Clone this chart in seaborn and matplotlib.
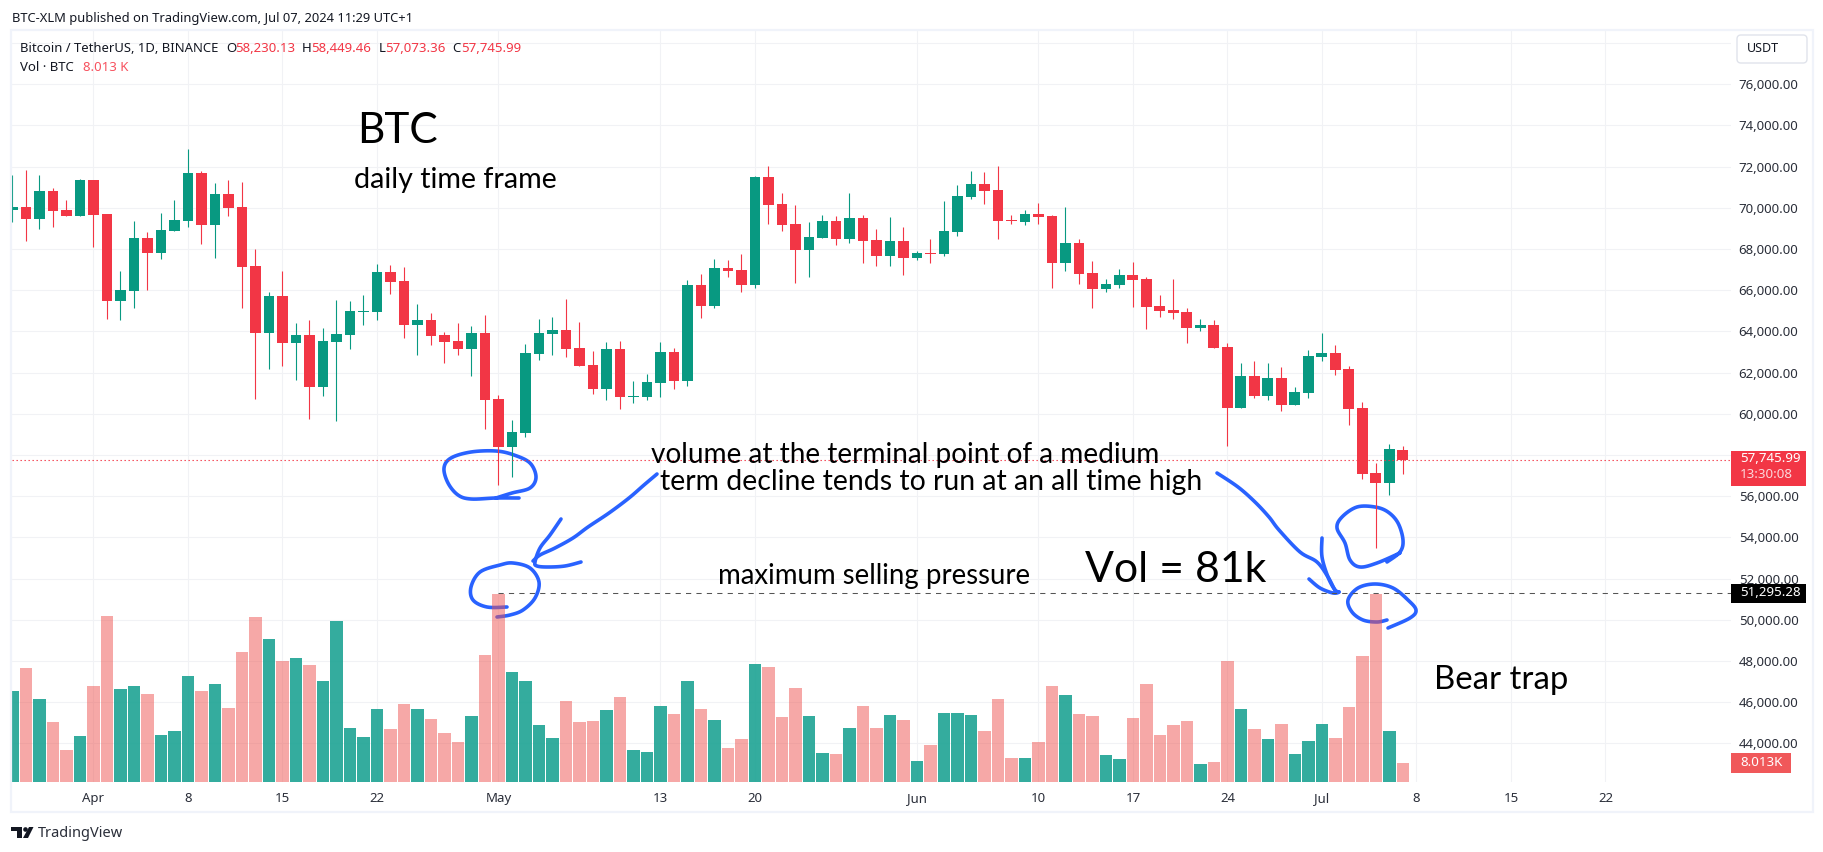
"""BTCUSDT daily chart with hand drawn notes about volume at the lows."""

import matplotlib
matplotlib.use("Agg")
import matplotlib.pyplot as plt
import numpy as np
import pandas as pd
import seaborn as sns
from matplotlib.patches import Circle, FancyBboxPatch, Polygon, Rectangle
from matplotlib.transforms import Affine2D

W, H = 1824, 852

UP = "#089981"
DOWN = "#F23645"
INK = "#131722"
BLUE = "#2962FF"

start_date = "2024-03-26"

opens = [69880, 70030, 69440, 70800, 69880, 69590, 71340, 69690, 65460, 65950, 68520, 67790, 68860,
         69350, 71680, 69150, 70660, 70030, 67160, 63910, 65710, 63430, 63810, 61290, 63470, 63810,
         64930, 64930, 66870, 66430, 64300, 64540, 63810, 63520, 63130, 63910, 60710, 58380, 59060,
         62890, 63860, 64060, 63180, 62360, 61190, 63130, 60800, 60800, 61480, 62990, 61580, 66240,
         65220, 67070, 66970, 66240, 71480, 70170, 69200, 67940, 68520, 69350, 68470, 69490, 68420,
         67650, 68380, 67550, 67790, 67750, 68810, 70510, 71140, 70850, 69400, 69300, 69690, 69590,
         67310, 68280, 66820, 66050, 66240, 66730, 66530, 65220, 65030, 64930, 64150, 64300, 63230,
         60270, 61820, 60850, 61730, 60420, 61000, 62750, 62940, 62160, 60270, 57120, 56630, 58230.13]
highs = [71580, 71820, 71580, 70950, 70370, 71390, 71340, 69690, 66920, 69350, 68810, 69740, 70370,
         72840, 71770, 71190, 71340, 71240, 67990, 65900, 66920, 64400, 64540, 64150, 65510, 65460,
         65760, 67260, 67210, 67110, 65320, 64880, 63960, 64400, 64250, 64780, 60900, 59690, 63380,
         64590, 64690, 65560, 64440, 63040, 63470, 63520, 61580, 61920, 63470, 63180, 66480, 66770,
         67500, 67450, 67750, 71530, 72020, 70710, 70120, 69300, 69640, 69590, 70710, 69640, 68960,
         69540, 69060, 67920, 68470, 70320, 71090, 71770, 71730, 72020, 69640, 69880, 70220, 69640,
         70030, 68470, 67410, 66530, 67020, 67360, 66630, 65760, 66530, 65120, 64590, 64540, 63430,
         62450, 62550, 62450, 62260, 61290, 63090, 63910, 63330, 62310, 60560, 57600, 58520, 58449.46]
lows = [69300, 68380, 68960, 69060, 69590, 69590, 68090, 64590, 64540, 65120, 66000, 67500, 68860,
        69060, 68230, 67550, 69590, 65120, 60710, 62160, 62310, 61630, 59740, 60850, 59640, 63130,
        64300, 64540, 65800, 63670, 62840, 63330, 62450, 62840, 61820, 59250, 56550, 56940, 58860,
        62600, 62840, 62750, 62310, 60950, 60660, 60220, 60510, 60660, 60800, 61190, 61340, 64640,
        65120, 66630, 65900, 66100, 69200, 68860, 66340, 66630, 68520, 68180, 68280, 67310, 67160,
        67160, 66730, 67450, 67310, 67650, 68620, 70420, 70170, 68470, 69200, 69150, 69200, 66100,
        66920, 66290, 65120, 65900, 66100, 65170, 64100, 64690, 64590, 63430, 64010, 63180, 58430,
        60270, 60760, 60660, 60120, 60420, 60760, 62550, 61870, 59450, 56820, 53490, 56050, 57073.36]
closes = [70030, 69440, 70800, 69830, 69590, 71340, 69640, 65460, 66000, 68520, 67790, 68910, 69400,
          71680, 69150, 70660, 69980, 67110, 63910, 65710, 63430, 63810, 61290, 63520, 63860, 64980,
          64980, 66870, 66390, 64300, 64540, 63770, 63470, 63130, 63910, 60660, 58380, 59110, 62940,
          63910, 64060, 63130, 62310, 61190, 63130, 60800, 60850, 61530, 62990, 61580, 66240, 65220,
          67070, 66920, 66240, 71480, 70120, 69150, 67940, 68570, 69350, 68470, 69490, 68380, 67650,
          68380, 67550, 67790, 67750, 68860, 70560, 71140, 70800, 69350, 69350, 69690, 69540, 67310,
          68280, 66770, 66050, 66290, 66730, 66480, 65170, 64980, 64880, 64150, 64300, 63180, 60270,
          61820, 60850, 61730, 60420, 61050, 62790, 62940, 62110, 60220, 57070, 56630, 58280, 57745.99]
volumes_k = [39.2, 49.2, 35.8, 25.8, 13.7, 19.8, 41.4, 71.7, 40.1, 41.4, 37.9, 20.2, 21.9,
             45.7, 39.2, 42.3, 31.9, 56.1, 71.2, 61.7, 52.2, 53.5, 50.5, 43.5, 69.5, 23.2,
             19.3, 31.4, 22.8, 33.6, 31.4, 27.1, 21.1, 17.2, 28.4, 54.8, 81.2, 47.4, 43.5,
             24.5, 18.9, 34.9, 25.8, 26.2, 31.0, 36.6, 13.7, 12.8, 32.7, 29.3, 43.5, 31.4,
             26.7, 14.6, 18.5, 50.9, 49.6, 28.0, 40.5, 28.4, 12.4, 12.0, 23.2, 32.7, 23.2,
             28.8, 26.7, 8.9, 15.9, 29.7, 29.7, 28.8, 21.9, 35.8, 10.2, 10.2, 17.2, 41.4,
             37.5, 29.3, 28.4, 11.5, 9.8, 27.5, 42.3, 20.2, 24.5, 26.2, 7.6, 8.5, 52.2,
             31.4, 22.8, 18.5, 24.9, 12.0, 17.6, 24.9, 18.9, 32.3, 54.4, 81.2, 21.9, 8.013]

price_ticks = list(range(44000, 78001, 2000))
tick_dates = ["2024-04-01", "2024-04-08", "2024-04-15", "2024-04-22", "2024-05-01", "2024-05-13",
              "2024-05-20", "2024-06-01", "2024-06-10", "2024-06-17", "2024-06-24", "2024-07-01",
              "2024-07-08", "2024-07-15", "2024-07-22"]
tick_labels = ["Apr", "8", "15", "22", "May", "13", "20", "Jun", "10", "17", "24", "Jul", "8", "15", "22"]
last_price = 57745.99
peak_level = 51295.28
peak_date = "2024-05-01"

# hand drawn pen strokes, in image pixels
strokes = [
    [(519, 498), (496, 498), (471, 499), (458, 495), (448, 483), (444, 468), (451, 458), (471, 452),
     (496, 451), (514, 455), (530, 463), (536, 477), (530, 488), (512, 493), (496, 498)],
    [(657, 474), (644, 485), (629, 498), (609, 513), (588, 527), (573, 538), (555, 548), (540, 555), (533, 561)],
    [(561, 519), (550, 535), (540, 548), (535, 562), (537, 566), (548, 567), (565, 566), (581, 562)],
    [(507, 607), (487, 607), (473, 600), (471, 587), (480, 572), (500, 565), (513, 563), (530, 568),
     (539, 582), (535, 598), (523, 610), (510, 615), (497, 617)],
    [(1217, 473), (1238, 487), (1255, 502), (1269, 517), (1279, 530), (1300, 552), (1317, 562),
     (1328, 577), (1335, 590), (1339, 592)],
    [(1322, 538), (1322, 557), (1328, 577), (1335, 590), (1339, 592), (1333, 593), (1320, 588), (1309, 579)],
    [(1387, 562), (1400, 552), (1403, 540), (1398, 523), (1388, 512), (1375, 507), (1357, 507), (1342, 517),
     (1337, 528), (1345, 543), (1350, 560), (1360, 567), (1377, 563), (1400, 553)],
    [(1387, 620), (1377, 622), (1363, 620), (1352, 612), (1348, 600), (1358, 588), (1375, 584), (1393, 588),
     (1408, 600), (1416, 610), (1410, 618), (1388, 628)],
]


def smooth(points, steps=8):
    """Catmull-Rom through the pen points, so strokes do not look polygonal."""
    p = np.array(points, dtype=float)
    p = np.vstack([p[0], p, p[-1]])
    out = []
    for i in range(1, len(p) - 2):
        for t in np.linspace(0, 1, steps, endpoint=False):
            out.append(0.5 * (2 * p[i] + (p[i + 1] - p[i - 1]) * t
                              + (2 * p[i - 1] - 5 * p[i] + 4 * p[i + 1] - p[i + 2]) * t ** 2
                              + (3 * p[i] - p[i - 1] - 3 * p[i + 1] + p[i + 2]) * t ** 3))
    out.append(p[-1])
    return np.array(out)


sns.set_theme(style="white")
plt.rcParams["font.family"] = ["Noto Sans", "DejaVu Sans"]
NOTE_FONT = "Lato"

df = pd.DataFrame({
    "date": pd.date_range(start_date, periods=len(opens)),
    "open": opens, "high": highs, "low": lows, "close": closes, "volume": volumes_k,
})
df["day"] = np.arange(len(df))
df["up"] = df["close"] >= df["open"]
df["color"] = np.where(df["up"], UP, DOWN)


def day_of(date):
    return (pd.Timestamp(date) - pd.Timestamp(start_date)).days


fig = plt.figure(figsize=(W / 100, H / 100), dpi=100, facecolor="white")
PX = Affine2D().scale(1, -1).translate(0, H)  # image pixels, y down

ax = fig.add_axes([12 / W, 1 - 782 / H, (1731 - 12) / W, (782 - 31) / H])
ax_vol = ax.twinx()

# volume first, on the transparent twin so it sits over the pen strokes
for is_up, color, alpha in [(True, "#22A596", 0.92), (False, "#EF5350", 0.5)]:
    sub = df[df["up"] == is_up]
    sns.barplot(data=sub, x="day", y="volume", native_scale=True, color=color, saturation=1,
                alpha=alpha, width=0.92, linewidth=0, errorbar=None, ax=ax_vol)
ax_vol.set_ylim(0, 324.9)
ax_vol.set_yticks([])
ax_vol.set_ylabel("")
ax_vol.set_xlabel("")
ax_vol.patch.set_visible(False)

ax.vlines(df["day"], df["low"], df["high"], colors=df["color"], linewidth=0.8, zorder=3)
ax.bar(df["day"], (df["close"] - df["open"]).abs().clip(lower=40), bottom=df[["open", "close"]].min(axis=1),
       width=0.81, color=df["color"], linewidth=0, zorder=4)

ax.axhline(last_price, color=DOWN, linewidth=0.8, linestyle=(0, (1.2, 2.4)), zorder=5)
ax.hlines(peak_level, day_of(peak_date), 200, color="#555555", linewidth=0.75, linestyle=(0, (5, 5)), zorder=5)

ax.set_xlim(-0.037, 127.3)
ax.set_ylim(42121, 78588)
ax.yaxis.tick_right()
ax.set_yticks(price_ticks)
ax.set_yticklabels([f"{v:,.2f}" if v < 78000 else "" for v in price_ticks])
ax.set_xticks([day_of(d) for d in tick_dates])
ax.set_xticklabels(tick_labels)
ax.tick_params(axis="y", length=0, pad=5.5, labelsize=9.5, labelcolor="#2a2e39")
ax.tick_params(axis="x", length=0, pad=7, labelsize=9.5, labelcolor="#2a2e39")
for tick_text in ax.get_yticklabels():
    tick_text.set_verticalalignment("center_baseline")
ax.grid(True, color="#F1F2F5", linewidth=0.8)
ax.set_axisbelow(True)
sns.despine(ax=ax, left=True, right=True, top=True, bottom=True)
sns.despine(ax=ax_vol, left=True, right=True, top=True, bottom=True)

for stroke in strokes:
    xy = smooth(stroke)
    ax.plot(xy[:, 0], xy[:, 1], color=BLUE, linewidth=2.6, solid_capstyle="round",
            solid_joinstyle="round", transform=PX, clip_on=False, zorder=2)

# frame and price boxes
fig.add_artist(Rectangle((11, 30), 1802, 782, transform=PX, fill=False, edgecolor="#F0F3FA", linewidth=1.6))
fig.add_artist(Rectangle((1731, 451), 75, 35, transform=PX, facecolor=DOWN, edgecolor="none"))
fig.add_artist(Rectangle((1731, 584), 75, 19, transform=PX, facecolor="black", edgecolor="none"))
fig.add_artist(Rectangle((1731, 753), 60, 20, transform=PX, facecolor="#F0585A", edgecolor="none"))
fig.add_artist(FancyBboxPatch((1740, 38), 64, 22, boxstyle="round,pad=3,rounding_size=4", transform=PX,
                              facecolor="white", edgecolor="#E0E3EB", linewidth=1))

# TradingView mark
fig.add_artist(Polygon([(11, 827), (22, 827), (22, 838), (17, 838), (17, 831), (11, 831)], transform=PX,
                       facecolor=INK, edgecolor="none"))
fig.add_artist(Circle((25.5, 829.5), 2.3, transform=PX, facecolor=INK, edgecolor="none"))
fig.add_artist(Polygon([(29, 827), (33.5, 827), (28, 838), (23, 838)], transform=PX, facecolor=INK, edgecolor="none"))


def label(x, y, s, size=9.5, color=INK, va="baseline", ha="left", **kw):
    fig.text(x, y, s, transform=PX, fontsize=size, color=color, va=va, ha=ha, **kw)


label(11.5, 22, "BTC-XLM published on TradingView.com, Jul 07, 2024 11:29 UTC+1", size=9.3)
label(20, 52, "Bitcoin / TetherUS, 1D, BINANCE", size=9.4)
for x, letter, value in [(226, "O", "58,230.13"), (302, "H", "58,449.46"), (379, "L", "57,073.36"), (452, "C", "57,745.99")]:
    label(x, 52, letter, size=9.5)
    label(x + (6 if letter == "L" else 9), 52, value, size=9.5, color=DOWN)
label(20, 71, "Vol · BTC", size=9.5)
label(83, 71, "8.013 K", size=9.5, color="#F7525F")
label(1747, 49, "USDT", size=9, va="center")
label(38, 837, "TradingView", size=10.5, color="#2a2e39")
label(1740, 459, "57,745.99", size=9.6, color="white", va="center", fontweight="medium")
label(1740, 475, "13:30:08", size=9.6, color="#FBD7DB", va="center")
label(1740, 592, "51,295.28", size=9.6, color="white", va="center", fontweight="medium")
label(1740, 763, "8.013K", size=9.6, color="white", va="center", fontweight="medium")

label(357, 143, "BTC", size=30.5, color="black", family=NOTE_FONT)
label(354, 188, "daily time frame", size=20.6, color="black", family=NOTE_FONT)
label(651, 463, "volume at the terminal point of a medium", size=20.2, color="black", family=NOTE_FONT)
label(660, 490, "term decline tends to run at an all time high", size=20.4, color="black", family=NOTE_FONT)
label(718, 584, "maximum selling pressure", size=19.9, color="black", family=NOTE_FONT)
label(1085, 582, "Vol = 81k", size=30.8, color="black", family=NOTE_FONT)
label(1434, 689, "Bear trap", size=23.7, color="black", family=NOTE_FONT)

fig.savefig("out.png", dpi=100, facecolor="white")
plt.close(fig)
